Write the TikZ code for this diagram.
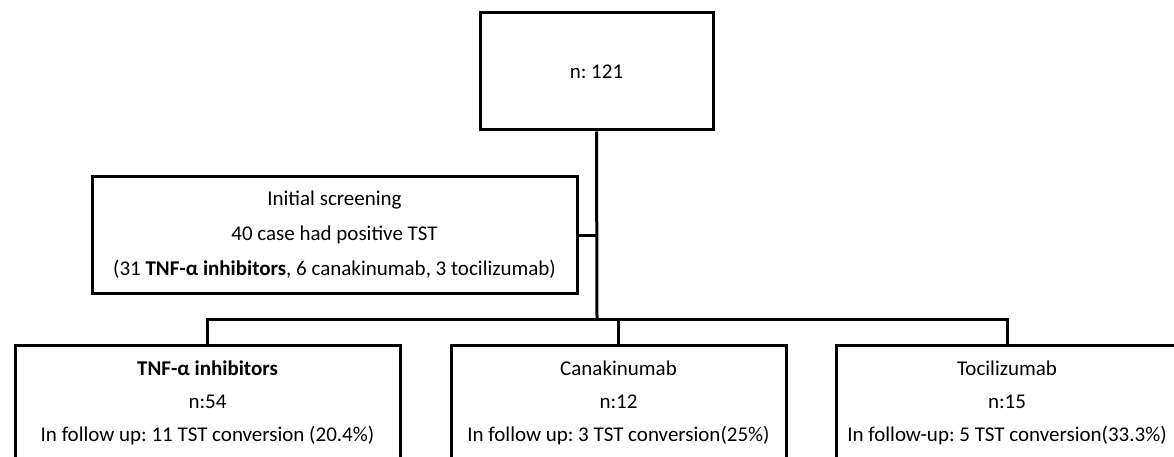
\documentclass[tikz,border=0pt]{standalone}
\usepackage{fontspec}
\setmainfont{Carlito}
\usetikzlibrary{positioning}

\begin{document}
\frenchspacing
\begin{tikzpicture}[x=1pt,y=1pt,line width=3pt,
  box/.style={draw,align=center,inner sep=0pt,font=\fontsize{21}{33}\selectfont},
  wire/.style={line width=3pt}]
\useasboundingbox (0,0) rectangle (1174,-457);
\clip (0,0) rectangle (1174,-457);
\node[box,minimum width=233,minimum height=117] (total) at (596.5,-71.5) {n: 121};
\node[box,minimum width=485,minimum height=116,font=\fontsize{21}{35}\selectfont] (screen) at (334.5,-235)
  {Initial screening\\40 case had positive TST\\(31 \textbf{TNF-α inhibitors}, 6 canakinumab, 3 tocilizumab)};
\node[box,minimum width=385,minimum height=116] (tnf) at (207.5,-403)
  {\textbf{TNF-α inhibitors}\\n:54\\In follow up: 11 TST conversion (20.4\%)};
\node[box,minimum width=335,minimum height=116] (cana) at (618.5,-403)
  {Canakinumab\\n:12\\In follow up: 3 TST conversion(25\%)};
\node[box,minimum width=342,minimum height=116] (toci) at (1007,-403)
  {Tocilizumab\\n:15\\In follow-up: 5 TST conversion(33.3\%)};
\coordinate (split) at (597,-319);
\draw[wire] (total.south) -- (split);
\draw[wire] (screen.east) -- (screen.east -| split);
\draw[wire] (tnf.north) |- (split) -| (toci.north);
\draw[wire] (split) -| (cana.north);
\end{tikzpicture}
\end{document}
